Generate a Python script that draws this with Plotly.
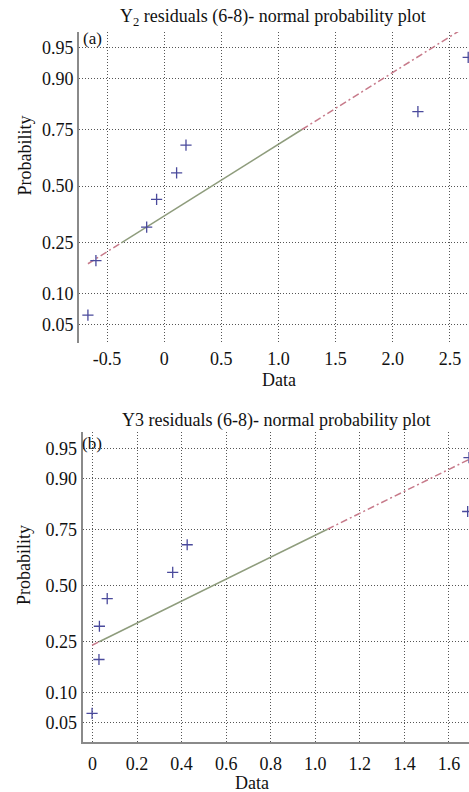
import numpy as np
import plotly.graph_objects as go
from statistics import NormalDist

nd = NormalDist()

# ---- data ----
prob_ticks = [0.05, 0.10, 0.25, 0.50, 0.75, 0.90, 0.95]
prob_labels = ["0.05", "0.10", "0.25", "0.50", "0.75", "0.90", "0.95"]

y2_resid = [-0.667, -0.597, -0.153, -0.066, 0.109, 0.191, 2.22, 2.66]
y3_resid = [-0.002, 0.029, 0.031, 0.066, 0.36, 0.425, 1.684, 1.69]

xa_ticks = [-0.5, 0, 0.5, 1.0, 1.5, 2.0, 2.5]
xa_labels = ["-0.5", "0", "0.5", "1.0", "1.5", "2.0", "2.5"]
xb_ticks = [0, 0.2, 0.4, 0.6, 0.8, 1.0, 1.2, 1.4, 1.6]
xb_labels = ["0", "0.2", "0.4", "0.6", "0.8", "1.0", "1.2", "1.4", "1.6"]

title_a = "Y<sub>2</sub> residuals (6-8)- normal probability plot"
title_b = "Y3 residuals (6-8)- normal probability plot"

FONT = "Liberation Serif, Times New Roman, serif"
W, H = 469, 792

fig = go.Figure()


def panel(data, xref, yref):
    d = np.sort(np.asarray(data, dtype=float))
    n = len(d)
    p = (np.arange(1, n + 1) - 0.5) / n
    z = np.array([nd.inv_cdf(v) for v in p])
    q1, q3 = np.percentile(d, [25, 75], method="hazen")
    z1, z3 = nd.inv_cdf(0.25), nd.inv_cdf(0.75)
    slope = (z3 - z1) / (q3 - q1)

    def zf(x):
        return z1 + (x - q1) * slope

    xmin, xmax = d.min(), d.max()
    # dash-dot extensions
    fig.add_trace(go.Scatter(
        x=[xmin, q1, None, q3, xmax], y=[zf(xmin), z1, None, z3, zf(xmax)],
        mode="lines", line=dict(color="#c77a8a", width=1.5, dash="7px,3px,2px,3px"),
        xaxis=xref, yaxis=yref, showlegend=False, hoverinfo="skip"))
    # solid segment between quartiles
    fig.add_trace(go.Scatter(
        x=[q1, q3], y=[z1, z3], mode="lines",
        line=dict(color="#8e9c7c", width=1.5),
        xaxis=xref, yaxis=yref, showlegend=False, hoverinfo="skip"))
    fig.add_trace(go.Scatter(
        x=d, y=z, mode="markers",
        marker=dict(symbol="cross-thin", size=8, line=dict(color="#4a4a9c", width=1.3)),
        xaxis=xref, yaxis=yref, showlegend=False))


panel(y2_resid, "x", "y")
panel(y3_resid, "x2", "y2")

zt = [nd.inv_cdf(v) for v in prob_ticks]

grid = dict(showgrid=True, gridcolor="#555555", gridwidth=1, griddash="1px,2px",
            zeroline=False, ticks="", tickfont=dict(family=FONT, size=18, color="#111"),
            automargin=False)

fig.update_layout(
    width=W, height=H,
    margin=dict(l=0, r=0, t=0, b=0),
    paper_bgcolor="white", plot_bgcolor="white",
    xaxis=dict(domain=[79 / W, 1], range=[-0.745, 2.667], tickvals=xa_ticks, ticktext=xa_labels,
               anchor="y", showline=False, ticklabelstandoff=3, **grid),
    yaxis=dict(domain=[1 - 343 / H, 1 - 32 / H], range=[-1.867, 1.835], tickvals=zt,
               ticktext=prob_labels, anchor="x", showline=True, linecolor="#8a8a8a", linewidth=2,
               **grid),
    xaxis2=dict(domain=[82.7 / W, 1], range=[-0.044, 1.69], tickvals=xb_ticks, ticktext=xb_labels,
                anchor="y2", showline=True, linecolor="#8a8a8a", linewidth=2,
                ticklabelstandoff=4, **grid),
    yaxis2=dict(domain=[1 - 742.3 / H, 1 - 431.7 / H], range=[-1.88, 1.844], tickvals=zt,
                ticktext=prob_labels, anchor="x2", showline=True, linecolor="#8a8a8a", linewidth=2,
                **grid),
)


def txt(s, x, y, size=18, angle=0):
    fig.add_annotation(text=s, x=x / W, y=1 - y / H, xref="paper", yref="paper",
                       showarrow=False, xanchor="center", yanchor="middle", textangle=angle,
                       font=dict(family=FONT, size=size, color="#111"))


txt(title_a, 272.5, 18)
txt(title_b, 276, 420)
txt("Probability", 24, 155.5, angle=-90)
txt("Probability", 24, 565, angle=-90)
txt("Data", 279, 380)
txt("Data", 252, 783)
txt("(a)", 92, 38, size=17)
txt("(b)", 92, 444, size=17)

fig.write_html("out.html", config={"displayModeBar": False},
               post_script="document.body.style.margin='0';document.body.style.overflow='hidden';")
